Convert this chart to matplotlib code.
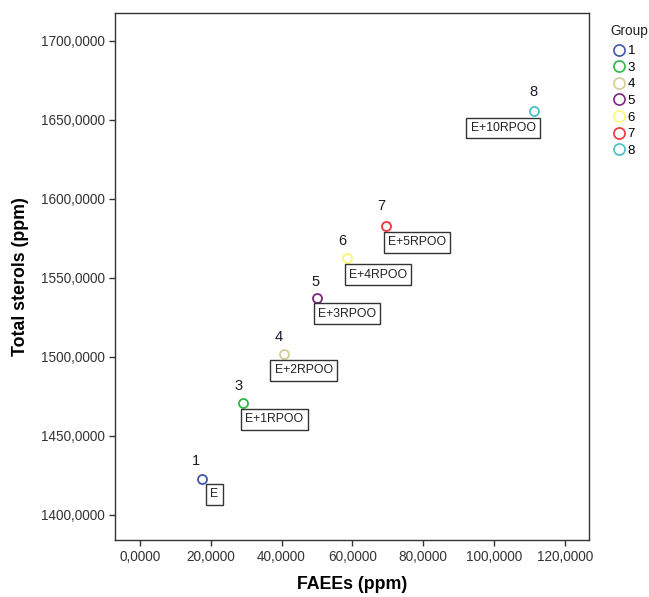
import matplotlib
matplotlib.use("Agg")
import matplotlib.pyplot as plt
from matplotlib.lines import Line2D

plt.rcParams['font.family'] = ['Liberation Sans', 'DejaVu Sans']

# data
groups = ['1', '3', '4', '5', '6', '7', '8']
faees = [17.5, 29.0, 40.8, 49.9, 58.6, 69.6, 111.2]
sterols = [1422.5, 1471.0, 1502.0, 1537.0, 1562.5, 1583.0, 1655.5]
names = ['E', 'E+1RPOO', 'E+2RPOO', 'E+3RPOO', 'E+4RPOO', 'E+5RPOO', 'E+10RPOO']
colors = ['#3E58AC', '#2EB848', '#D3CE97', '#7C287D', '#FBF873', '#EF3338', '#48C2C5']

xticks = [0, 20, 40, 60, 80, 100, 120]
yticks = [1400, 1450, 1500, 1550, 1600, 1650, 1700]

# label offsets in points (box center, number label)
box_off = [(9, -11), (23, -12), (14, -12), (22, -11), (22, -12), (22, -12), (-22, -12)]
num_off = [(-4, 13), (-3, 12), (-4, 12), (-1, 12), (-4, 12), (-4, 14), (0, 14)]

fig = plt.figure(figsize=(6.49, 5.97), dpi=100)
ax = fig.add_axes([0.1772, 0.0955, 0.7304, 0.8835])

for i in range(len(groups)):
    ax.plot(faees[i], sterols[i], 'o', mfc='none', mec=colors[i], mew=1.3, ms=6.5)
    ax.annotate(names[i], (faees[i], sterols[i]), xytext=box_off[i], textcoords='offset points',
                ha='center', va='center', fontsize=8.8, color='#222222',
                bbox=dict(boxstyle='square,pad=0.35', fc='white', ec='#333333', lw=1.0))
    ax.annotate(groups[i], (faees[i], sterols[i]), xytext=num_off[i], textcoords='offset points',
                ha='center', va='center', fontsize=10.5, color='#1a1a2a')

ax.set_xlim(-7, 126.8)
ax.set_ylim(1384, 1718)
ax.set_xticks(xticks)
ax.set_yticks(yticks)
ax.set_xticklabels(['%d,0000' % v for v in xticks])
ax.set_yticklabels(['%d,0000' % v for v in yticks])
ax.tick_params(labelsize=9.8, colors='#333333', length=4, width=1)
for s in ax.spines.values():
    s.set_color('#333333')
    s.set_linewidth(1.0)

ax.set_xlabel('FAEEs (ppm)', fontsize=12.8, fontweight='bold', labelpad=8)
ax.set_ylabel('Total sterols (ppm)', fontsize=12.8, fontweight='bold', labelpad=8)

# legend, title drawn separately to get the wider gap
fig.text(610 / 649, 1 - 31 / 597, 'Group', fontsize=9.8, color='#222222', ha='left', va='center')
handles = [Line2D([], [], ls='none', marker='o', mfc='none', mec=c, mew=1.2, ms=8) for c in colors]
leg = fig.legend(handles, groups, loc='upper left', bbox_to_anchor=(613 / 649, 1 - 45 / 597),
                 frameon=False, fontsize=9.5, handlelength=0.9, handletextpad=0.2,
                 labelspacing=0.33, borderaxespad=0.0, borderpad=0.0)

fig.savefig('out.png', dpi=100)
